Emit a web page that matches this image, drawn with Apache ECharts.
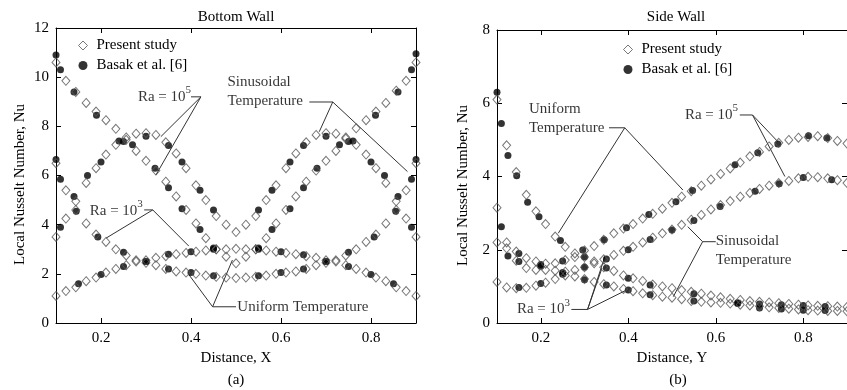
<!DOCTYPE html>
<html><head><meta charset="utf-8">
<script src="https://cdn.jsdelivr.net/npm/echarts@6/dist/echarts.min.js"></script>
<style>html,body{margin:0;padding:0;background:#fff}#c{width:847px;height:390px}</style>
</head><body><div id="c"></div>
<script>
// ---------- shared x positions of the "Present study" points ----------
const X_GRID = [0.1,0.122,0.144,0.167,0.189,0.211,0.233,0.256,0.278,0.3,0.322,0.344,0.367,0.389,0.411,0.433,0.456,0.478,0.5,0.522,0.544,0.567,0.589,0.611,0.633,0.656,0.678,0.7,0.722,0.744,0.767,0.789,0.811,0.833,0.856,0.878,0.9];
const X_TICKS = [0.2,0.4,0.6,0.8];

// ---------- (a) Bottom wall : present study ----------
const BW_UNI_RA5_PRESENT = [10.6,9.85,9.4,8.95,8.6,8.25,7.9,7.45,7.0,6.6,6.2,5.75,5.15,4.6,4.05,3.45,3.0,2.7,2.43,2.7,3.0,3.45,4.05,4.6,5.15,5.75,6.2,6.6,7.0,7.5,7.92,8.25,8.6,8.95,9.45,9.85,10.6];
const BW_SIN_RA5_PRESENT = [3.5,4.25,4.95,5.7,6.3,6.85,7.25,7.55,7.7,7.72,7.65,7.35,6.9,6.3,5.6,5.0,4.35,4.0,3.7,4.0,4.35,5.0,5.6,6.3,6.9,7.35,7.65,7.72,7.7,7.55,7.25,6.85,6.3,5.7,4.95,4.25,3.5];
const BW_UNI_RA3_PRESENT = [6.5,5.4,4.6,4.05,3.6,3.3,3.0,2.75,2.55,2.45,2.35,2.2,2.1,2.05,2.0,1.93,1.88,1.85,1.83,1.85,1.88,1.93,2.0,2.05,2.1,2.2,2.35,2.45,2.55,2.75,3.0,3.3,3.6,4.05,4.6,5.4,6.5];
const BW_SIN_RA3_PRESENT = [1.1,1.3,1.45,1.7,1.85,2.05,2.2,2.35,2.5,2.55,2.65,2.72,2.8,2.85,2.9,2.95,3.0,3.0,3.02,3.0,3.0,2.95,2.9,2.85,2.8,2.72,2.65,2.55,2.5,2.35,2.2,2.05,1.85,1.7,1.45,1.3,1.1];

// ---------- (a) Bottom wall : Basak et al. ----------
const BW_UNI_RA5_BASAK_X = [0.1,0.11,0.14,0.19,0.24,0.27,0.32,0.35,0.38,0.42,0.45,0.55,0.58,0.62,0.65,0.68,0.73,0.76,0.81,0.86,0.89,0.9];
const BW_UNI_RA5_BASAK_Y = [10.9,10.3,9.4,8.45,7.4,7.25,6.3,5.5,4.65,3.8,3.05,3.05,3.8,4.65,5.5,6.3,7.25,7.4,8.45,9.4,10.3,10.95];
const BW_SIN_RA5_BASAK_X = [0.11,0.14,0.17,0.2,0.25,0.3,0.35,0.38,0.42,0.45,0.55,0.58,0.62,0.65,0.7,0.75,0.8,0.83,0.86,0.89];
const BW_SIN_RA5_BASAK_Y = [3.9,5.15,6.0,6.55,7.38,7.6,7.22,6.55,5.4,4.6,4.6,5.4,6.55,7.22,7.6,7.38,6.55,6.0,5.15,3.9];
const BW_UNI_RA3_BASAK_X = [0.1,0.11,0.145,0.193,0.25,0.3,0.35,0.4,0.45,0.55,0.6,0.65,0.7,0.75,0.807,0.855,0.89,0.9];
const BW_UNI_RA3_BASAK_Y = [6.65,5.85,4.55,3.5,2.88,2.5,2.2,2.05,1.92,1.92,2.05,2.2,2.5,2.88,3.5,4.55,5.85,6.65];
const BW_SIN_RA3_BASAK_X = [0.15,0.2,0.25,0.3,0.35,0.4,0.45,0.55,0.6,0.65,0.7,0.75,0.8,0.85];
const BW_SIN_RA3_BASAK_Y = [1.6,1.97,2.3,2.5,2.8,2.9,3.0,3.0,2.9,2.78,2.5,2.3,1.97,1.6];

// ---------- (b) Side wall : present study ----------
const SW_UNI_RA5_PRESENT = [6.1,4.85,4.12,3.5,3.05,2.7,2.36,2.08,1.9,1.98,2.1,2.27,2.45,2.58,2.7,2.85,2.98,3.12,3.28,3.45,3.6,3.75,3.92,4.07,4.22,4.38,4.55,4.67,4.82,4.92,5.0,5.06,5.08,5.1,5.05,4.97,4.9];
const SW_SIN_RA5_PRESENT = [2.2,2.04,1.7,1.5,1.45,1.45,1.43,1.4,1.45,1.52,1.63,1.74,1.86,1.97,2.08,2.2,2.33,2.45,2.55,2.68,2.82,2.95,3.1,3.22,3.33,3.45,3.55,3.66,3.75,3.82,3.88,3.95,3.99,3.98,3.95,3.9,3.82];
const SW_UNI_RA3_PRESENT = [3.15,2.2,1.95,1.77,1.68,1.62,1.63,1.72,1.8,1.8,1.68,1.52,1.42,1.3,1.22,1.15,1.05,1.0,0.95,0.9,0.85,0.8,0.75,0.7,0.66,0.63,0.6,0.58,0.56,0.54,0.52,0.5,0.48,0.47,0.46,0.45,0.44];
const SW_SIN_RA3_PRESENT = [1.12,0.97,0.95,0.96,1.02,1.1,1.2,1.3,1.27,1.2,1.12,1.06,1.0,0.93,0.87,0.81,0.76,0.72,0.69,0.65,0.6,0.58,0.56,0.55,0.53,0.5,0.48,0.46,0.43,0.41,0.39,0.37,0.35,0.34,0.33,0.33,0.32];

// ---------- (b) Side wall : Basak et al. ----------
const SW_UNI_RA5_BASAK_X = [0.1,0.11,0.125,0.145,0.17,0.196,0.245,0.296,0.345,0.396,0.447,0.509,0.547,0.644,0.696,0.742,0.812,0.854];
const SW_UNI_RA5_BASAK_Y = [6.3,5.45,4.57,4.02,3.3,2.9,2.25,1.99,2.27,2.6,2.96,3.31,3.62,4.32,4.65,4.89,5.11,5.05];
const SW_SIN_RA5_BASAK_X = [0.125,0.15,0.2,0.25,0.3,0.35,0.4,0.45,0.5,0.55,0.61,0.69,0.745,0.8,0.865];
const SW_SIN_RA5_BASAK_Y = [1.83,1.68,1.55,1.38,1.52,1.75,2.0,2.28,2.54,2.8,3.18,3.6,3.8,3.97,3.91];
const SW_UNI_RA3_BASAK_X = [0.11,0.15,0.2,0.25,0.3,0.35,0.4,0.45,0.55,0.65,0.7,0.75,0.8,0.85];
const SW_UNI_RA3_BASAK_Y = [2.63,1.9,1.6,1.69,1.8,1.5,1.22,1.04,0.8,0.55,0.52,0.5,0.48,0.45];
const SW_SIN_RA3_BASAK_X = [0.15,0.2,0.25,0.3,0.35,0.4,0.45,0.55,0.65,0.7,0.75,0.8,0.85];
const SW_SIN_RA3_BASAK_Y = [0.97,1.08,1.33,1.18,1.04,0.9,0.77,0.6,0.53,0.41,0.38,0.35,0.34];

// ---------- annotations (data coordinates) ----------
const BW_NOTES = [
  {x:0.4,   y:9.2,  text:'Ra = 10{sup|5}', pos:'left'},
  {x:0.481, y:9.4,  text:'Sinusoidal\nTemperature', pos:'right'},
  {x:0.293, y:4.57, text:'Ra = 10{sup|3}', pos:'left'},
  {x:0.503, y:0.66, text:'Uniform Temperature', pos:'right'}
];
const BW_LEADERS = [
  [[0.4,9.2],[0.422,9.2],[0.333,7.58]], [[0.422,9.2],[0.322,6.02]],
  [[0.663,8.99],[0.715,8.99],[0.685,7.78]], [[0.715,8.99],[0.881,6.16]],
  [[0.296,4.6],[0.315,4.6],[0.211,3.45]], [[0.315,4.6],[0.395,3.13]],
  [[0.5,0.66],[0.448,0.66],[0.396,1.95]], [[0.448,0.66],[0.492,2.56]]
];
const SW_NOTES = [
  {x:0.173, y:5.57, text:'Uniform\nTemperature', pos:'right'},
  {x:0.651, y:5.68, text:'Ra = 10{sup|5}', pos:'left'},
  {x:0.6,   y:1.97, text:'Sinusoidal\nTemperature', pos:'right'},
  {x:0.267, y:0.37, text:'Ra = 10{sup|3}', pos:'left'}
];
const SW_LEADERS = [
  [[0.356,5.33],[0.392,5.33],[0.24,2.45]], [[0.392,5.33],[0.525,3.63]],
  [[0.655,5.68],[0.684,5.68],[0.742,4.95]], [[0.684,5.68],[0.758,4.0]],
  [[0.6,2.22],[0.57,2.22],[0.536,2.63]], [[0.57,2.22],[0.503,0.72]],
  [[0.27,0.37],[0.307,0.37],[0.34,1.5]], [[0.307,0.37],[0.347,1.83]], [[0.307,0.37],[0.396,0.9]]
];

const FONT = '"Liberation Serif", "Times New Roman", serif';
const GRAY = '#555';

function pairs(xs, ys){ return xs.map((x,i)=>[x, ys[i]]); }
function diamondSeries(g, ys){
  return {type:'scatter', name:'Present study', xAxisIndex:g*2, yAxisIndex:g*2, data:pairs(X_GRID, ys),
    symbol:'diamond', symbolSize:[8,9], itemStyle:{color:'rgba(255,255,255,0)', borderColor:GRAY, borderWidth:1}, z:4, silent:true};
}
function dotSeries(g, xs, ys){
  return {type:'scatter', name:'Basak et al. [6]', xAxisIndex:g*2, yAxisIndex:g*2, data:pairs(xs, ys),
    symbol:'circle', symbolSize:7, itemStyle:{color:'#000'}, z:3, silent:true};
}
function leaderSeries(g, pts){
  return {type:'line', xAxisIndex:g*2, yAxisIndex:g*2, data:pts, symbol:'none', showSymbol:false,
    lineStyle:{color:'#333', width:1}, z:2, silent:true};
}
function noteSeries(g, n){
  return {type:'scatter', xAxisIndex:g*2, yAxisIndex:g*2, data:[[n.x, n.y]], symbolSize:0, silent:true, z:5,
    label:{show:true, position:n.pos, distance:0, formatter:n.text, fontFamily:FONT, fontSize:15, color:'#000',
      lineHeight: n.text.indexOf('sup')>=0 ? 24 : 19, align: n.pos==='left' ? 'right' : 'left',
      rich:{sup:{fontFamily:FONT, fontSize:11, color:'#000', verticalAlign:'top', lineHeight:11}}}};
}
function xAxes(g, name){
  const base = {gridIndex:g, type:'value', min:0.1, max:0.9, splitLine:{show:false},
    axisLine:{onZero:false, lineStyle:{color:'#000', width:1}},
    axisTick:{inside:true, length:5, customValues:X_TICKS, lineStyle:{color:'#000'}}};
  return [
    Object.assign({}, base, {position:'bottom', name:name, nameLocation:'middle', nameGap:27,
      nameTextStyle:{fontFamily:FONT, fontSize:15, color:'#000'},
      axisLabel:{customValues:X_TICKS, formatter:v=>v.toFixed(1), fontFamily:FONT, fontSize:15, color:'#000', margin:8}}),
    Object.assign({}, base, {position:'top', axisLabel:{show:false}})
  ];
}
function yAxes(g, max, gap){
  const base = {gridIndex:g, type:'value', min:0, max:max, interval:2, splitLine:{show:false},
    axisLine:{onZero:false, lineStyle:{color:'#000', width:1}},
    axisTick:{inside:true, length:5, lineStyle:{color:'#000'}}};
  return [
    Object.assign({}, base, {position:'left', name:'Local Nusselt Number, Nu', nameLocation:'middle', nameGap:gap,
      nameTextStyle:{fontFamily:FONT, fontSize:15, color:'#000', padding:[0,18,0,0]},
      axisLabel:{fontFamily:FONT, fontSize:15, color:'#000', margin:7}}),
    Object.assign({}, base, {position:'right', axisLabel:{show:false}})
  ];
}
function legendFor(left, top){
  return {left:left, top:top, orient:'vertical', padding:0, itemGap:5, itemWidth:9, itemHeight:9,
    selectedMode:false, textStyle:{fontFamily:FONT, fontSize:15, color:'#000', padding:[0,0,0,4]},
    data:[{name:'Present study', icon:'diamond', itemStyle:{color:'#fff', borderColor:GRAY, borderWidth:1}},
          {name:'Basak et al. [6]', icon:'circle', itemStyle:{color:'#000'}}]};
}

const series = [];
// panel (a)
series.push(dotSeries(0, BW_UNI_RA5_BASAK_X, BW_UNI_RA5_BASAK_Y));
series.push(dotSeries(0, BW_SIN_RA5_BASAK_X, BW_SIN_RA5_BASAK_Y));
series.push(dotSeries(0, BW_UNI_RA3_BASAK_X, BW_UNI_RA3_BASAK_Y));
series.push(dotSeries(0, BW_SIN_RA3_BASAK_X, BW_SIN_RA3_BASAK_Y));
series.push(diamondSeries(0, BW_UNI_RA5_PRESENT));
series.push(diamondSeries(0, BW_SIN_RA5_PRESENT));
series.push(diamondSeries(0, BW_UNI_RA3_PRESENT));
series.push(diamondSeries(0, BW_SIN_RA3_PRESENT));
BW_LEADERS.forEach(p=>series.push(leaderSeries(0, p)));
BW_NOTES.forEach(n=>series.push(noteSeries(0, n)));
// panel (b)
series.push(dotSeries(1, SW_UNI_RA5_BASAK_X, SW_UNI_RA5_BASAK_Y));
series.push(dotSeries(1, SW_SIN_RA5_BASAK_X, SW_SIN_RA5_BASAK_Y));
series.push(dotSeries(1, SW_UNI_RA3_BASAK_X, SW_UNI_RA3_BASAK_Y));
series.push(dotSeries(1, SW_SIN_RA3_BASAK_X, SW_SIN_RA3_BASAK_Y));
series.push(diamondSeries(1, SW_UNI_RA5_PRESENT));
series.push(diamondSeries(1, SW_SIN_RA5_PRESENT));
series.push(diamondSeries(1, SW_UNI_RA3_PRESENT));
series.push(diamondSeries(1, SW_SIN_RA3_PRESENT));
SW_LEADERS.forEach(p=>series.push(leaderSeries(1, p)));
SW_NOTES.forEach(n=>series.push(noteSeries(1, n)));

const chart = echarts.init(document.getElementById('c'));
chart.setOption({
  animation:false,
  backgroundColor:'#fff',
  grid:[{left:56, right:431, top:28, bottom:67}, {left:497, right:-10, top:30, bottom:67}],
  xAxis:[].concat(xAxes(0,'Distance, X'), xAxes(1,'Distance, Y')),
  yAxis:[].concat(yAxes(0,12,28), yAxes(1,8,26)),
  legend:[legendFor(78,38), legendFor(623,42)],
  graphic:[
    {type:'text', x:236, y:17, style:{text:'Bottom Wall', font:'15px "Liberation Serif"', fill:'#000', align:'center', verticalAlign:'middle'}},
    {type:'text', x:676, y:17, style:{text:'Side Wall', font:'15px "Liberation Serif"', fill:'#000', align:'center', verticalAlign:'middle'}},
    {type:'text', x:236, y:380, style:{text:'(a)', font:'15px "Liberation Serif"', fill:'#000', align:'center', verticalAlign:'middle'}},
    {type:'text', x:678, y:380, style:{text:'(b)', font:'15px "Liberation Serif"', fill:'#000', align:'center', verticalAlign:'middle'}}
  ],
  series:series
});
</script>
</body></html>
